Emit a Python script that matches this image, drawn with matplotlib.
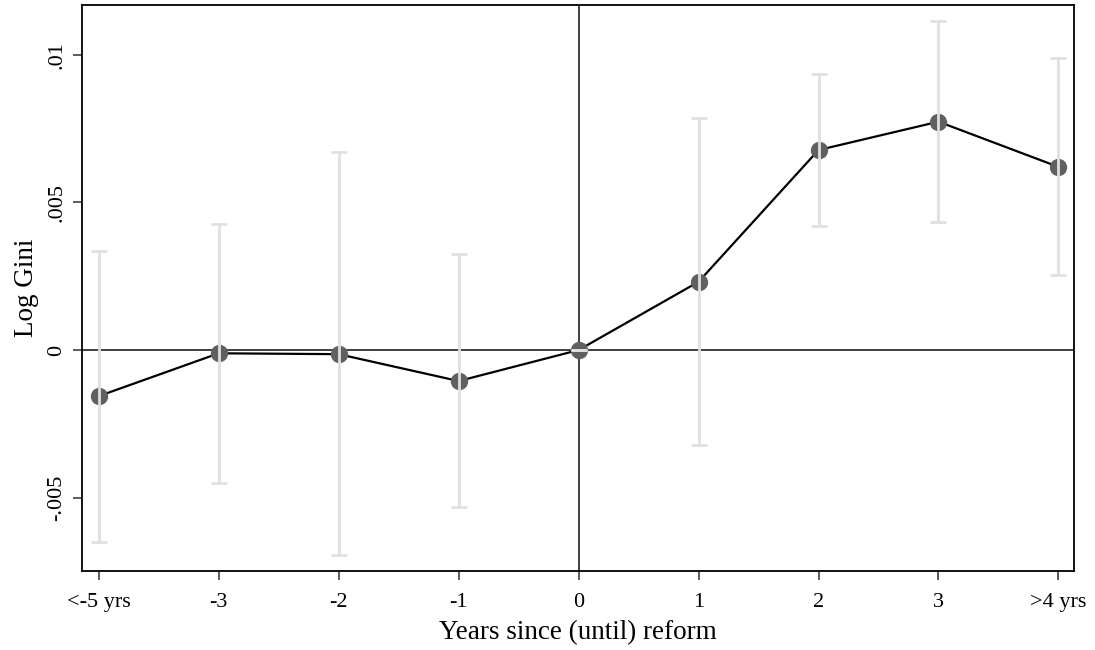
import numpy as np
import matplotlib
matplotlib.use("Agg")
import matplotlib.pyplot as plt

labels = ['<-5 yrs', '-3', '-2', '-1', '0', '1', '2', '3', '>4 yrs']
coef = [-0.00156, -0.00011, -0.00014, -0.00105, 0.0, 0.00231, 0.00677, 0.00773, 0.0062]
ci_low = [-0.00649, -0.00451, -0.00695, -0.0053, 0.0, -0.00322, 0.00419, 0.00434, 0.00253]
ci_high = [0.00336, 0.00427, 0.0067, 0.00324, 0.0, 0.00786, 0.00935, 0.01114, 0.0099]

plt.rcParams['font.family'] = ['Liberation Serif', 'DejaVu Serif']

x = np.arange(len(labels))
coef = np.array(coef)
err = [coef - np.array(ci_low), np.array(ci_high) - coef]

fig = plt.figure(figsize=(10.95, 6.5), dpi=100)
ax = fig.add_axes([82/1095, 1 - 571/650, (1074-82)/1095, (571-5)/650])

# reference lines at zero
ax.axhline(0, color='#404040', lw=1.4, zorder=1)
ax.axvline(4, color='#404040', lw=1.4, zorder=1)

ax.plot(x, coef, color='black', lw=1.6, zorder=2)
ax.plot(x, coef, 'o', color='#606060', markersize=12.5, markeredgewidth=0, zorder=3)
ax.errorbar(x, coef, yerr=err, fmt='none', ecolor='#e0e0e0', elinewidth=2,
            capsize=5.8, capthick=2, zorder=4)

ax.set_xlim(-0.14, 8.13)
ax.set_ylim(-0.00748, 0.01168)
ax.set_xticks(x)
ax.set_xticklabels(labels, fontsize=16)
ax.set_yticks([-0.005, 0, 0.005, 0.01])
ax.set_yticklabels(['-.005', '0', '.005', '.01'], fontsize=16, rotation=90, va='center')
ax.tick_params(direction='out', length=6.5, width=1.2, color='#404040')
ax.tick_params(axis='x', pad=9)
ax.tick_params(axis='y', pad=5)

ax.set_xlabel('Years since (until) reform', fontsize=19.5, labelpad=6)
ax.set_ylabel('Log Gini', fontsize=19.5, labelpad=6)

for s in ax.spines.values():
    s.set_linewidth(1.3)

plt.savefig('out.png', dpi=100)
